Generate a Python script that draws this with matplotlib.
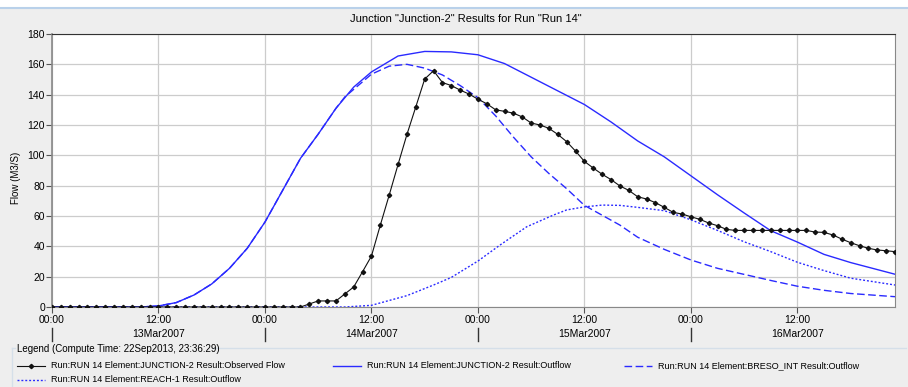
import matplotlib
matplotlib.use("Agg")
import matplotlib.pyplot as plt
from matplotlib.lines import Line2D
from matplotlib.transforms import blended_transform_factory
import numpy as np

plt.rcParams['font.family'] = ['Liberation Sans', 'DejaVu Sans']

# ---- data (hours since 13Mar2007 00:00) ----
obs_hours = list(range(0, 96))
obs_flow = ([0.0] * 29 +
            [2.0, 4.0, 4.0, 4.0, 8.6, 13.2, 23.3, 33.6, 54.0, 73.8, 94.0, 113.8, 132.0, 150.3,
             155.8, 148.0, 146.0, 143.0, 140.4, 137.0, 134.0, 130.0, 129.0, 127.8, 125.3, 121.3,
             120.0, 117.8, 113.8, 109.0, 102.8, 96.0, 91.6, 87.5, 84.0, 79.8, 76.9, 72.7, 71.2,
             68.8, 65.7, 62.4, 61.3, 59.5, 57.8, 55.4, 53.6, 51.2,
             50.5, 50.5, 50.5, 50.5, 50.5, 50.5, 50.5, 50.5, 50.5,
             49.4, 49.2, 47.5, 44.8, 42.4, 40.4, 38.7, 37.6, 37.1, 36.5])

junc_hours = [0, 10, 12, 14, 16, 18, 20, 22, 24, 26, 28, 30, 32, 34, 36, 39, 42, 45, 48, 51, 54,
              57, 60, 63, 66, 69, 72, 75, 78, 81, 84, 87, 90, 95]
junc_flow = [0, 0, 0.7, 2.9, 7.9, 15.2, 25.5, 38.7, 56.0, 77.0, 98.0, 114.0, 131.0, 145.0, 155.0,
             165.5, 168.5, 168.2, 166.3, 160.5, 151.5, 142.5, 133.5, 122.0, 109.5, 99.0, 86.5,
             74.0, 62.0, 50.3, 42.8, 34.7, 29.3, 21.6]

breso_hours = [0, 10, 12, 14, 16, 18, 20, 22, 24, 26, 28, 30, 32, 33, 36, 38, 40, 42, 44, 46, 48,
               50, 52, 54, 56, 58, 60, 62, 64, 66, 69, 72, 75, 78, 81, 84, 87, 90, 95]
breso_flow = [0, 0, 0.7, 2.9, 7.9, 15.2, 25.5, 38.7, 56.0, 77.0, 98.0, 114.0, 131.0, 138.5, 153.5,
              158.8, 160.0, 157.5, 153.0, 146.0, 138.0, 126.0, 112.0, 99.0, 88.0, 78.0, 67.0,
              60.5, 54.0, 46.0, 38.0, 31.0, 25.5, 21.5, 17.5, 13.7, 11.0, 8.9, 6.8]

reach_hours = [0, 33, 36, 40, 43, 45, 48, 50.5, 53.5, 56.5, 58, 60, 62, 64, 66, 69, 72, 75, 78,
               81, 84, 87, 90, 95]
reach_flow = [0, 0, 1.1, 7.5, 14.5, 19.5, 30.3, 40.9, 52.9, 60.6, 64.0, 66.0, 67.2, 67.0, 65.7,
              63.5, 57.5, 50.5, 43.0, 36.5, 29.5, 24.0, 19.0, 14.5]

time_ticks = [0, 12, 24, 36, 48, 60, 72, 84]
time_labels = ["00:00", "12:00", "00:00", "12:00", "00:00", "12:00", "00:00", "12:00"]
date_pos = [12, 36, 60, 84]
date_labels = ["13Mar2007", "14Mar2007", "15Mar2007", "16Mar2007"]
day_sep = [0, 24, 48, 72]

legend_labels = ["Run:RUN 14 Element:JUNCTION-2 Result:Observed Flow",
                 "Run:RUN 14 Element:JUNCTION-2 Result:Outflow",
                 "Run:RUN 14 Element:BRESO_INT Result:Outflow",
                 "Run:RUN 14 Element:REACH-1 Result:Outflow"]

W, H = 908, 387
BG = '#eeeeee'
fig = plt.figure(figsize=(W / 100, H / 100), dpi=100, facecolor=BG)

def fx(px):
    return px / W

def fy(py):
    return 1 - py / H

# top strip
fig.add_artist(plt.Rectangle((0, fy(8)), 1, 1 - fy(8), transform=fig.transFigure,
                             facecolor='white', edgecolor='none'))
fig.add_artist(Line2D([0, 1], [fy(8), fy(8)], transform=fig.transFigure, color='#b9d1ea', lw=1.5))

ax = fig.add_axes([fx(52), fy(307), fx(895 - 52), (307 - 34) / H])
ax.set_facecolor('white')

blue = '#2a2aff'
ax.plot(junc_hours, junc_flow, color=blue, lw=1.0, zorder=3)
ax.plot(breso_hours, breso_flow, color=blue, lw=1.0, ls=(0, (5.5, 2.5)), zorder=3)
ax.plot(reach_hours, reach_flow, color=blue, lw=1.0, ls=(0, (1.4, 1.4)), zorder=3)
ax.plot(obs_hours, obs_flow, color='#111111', lw=0.8, marker='D', ms=2.2, zorder=4)

ax.set_xlim(0, 95)
ax.set_ylim(0, 180)
ax.set_yticks(range(0, 181, 20))
ax.set_xticks(time_ticks)
ax.set_xticklabels(time_labels)
ax.grid(True, color='#cccccc', lw=0.9)
ax.set_axisbelow(True)
ax.tick_params(axis='both', labelsize=7.5, length=4, width=0.8, color='#555555', pad=2)
ax.tick_params(axis='y', pad=1)
for side in ['left', 'bottom', 'right']:
    ax.spines[side].set_color('#888888')
ax.spines['top'].set_color('#333333')
ax.spines['left'].set_linewidth(1.2)

trans = blended_transform_factory(ax.transData, ax.transAxes)
for x, lab in zip(date_pos, date_labels):
    ax.text(x, (307 - 334) / 273, lab, transform=trans, ha='center', va='center',
            fontsize=7.5, clip_on=False)
for x in day_sep:
    ax.add_line(Line2D([x, x], [(307 - 328) / 273, (307 - 341) / 273], transform=trans,
                       color='#333333', lw=1.0, clip_on=False))

fig.text(fx(466), fy(19), 'Junction "Junction-2" Results for Run "Run 14"', ha='center',
         va='center', fontsize=8)
fig.text(fx(16), fy(178), 'Flow (M3/S)', rotation=90, ha='center', va='center', fontsize=7)

# legend panel
fig.add_artist(Line2D([fx(12), fx(15)], [fy(348), fy(348)], transform=fig.transFigure,
                      color='#d5dfe9', lw=1))
fig.add_artist(Line2D([fx(212), fx(906)], [fy(348), fy(348)], transform=fig.transFigure,
                      color='#d5dfe9', lw=1))
fig.add_artist(Line2D([fx(12), fx(12)], [fy(348), 0], transform=fig.transFigure,
                      color='#d5dfe9', lw=1))
fig.text(fx(17), fy(349), 'Legend (Compute Time: 22Sep2013, 23:36:29)', va='center',
         ha='left', fontsize=7)

entries = [
    (17, 366, dict(color='#111111', lw=0.8), True),
    (333, 366, dict(color=blue, lw=1.0), False),
    (624, 366, dict(color=blue, lw=1.0, ls=(0, (5.5, 2.5))), False),
    (17, 380, dict(color=blue, lw=1.0, ls=(0, (1.4, 1.4))), False),
]
for (x0, y0, style, mk), lab in zip(entries, legend_labels):
    fig.add_artist(Line2D([fx(x0), fx(x0 + 28)], [fy(y0), fy(y0)], transform=fig.transFigure,
                          **style))
    if mk:
        fig.add_artist(Line2D([fx(x0 + 14)], [fy(y0)], transform=fig.transFigure,
                              color='#111111', marker='D', ms=2.2, lw=0))
    fig.text(fx(x0 + 34), fy(y0), lab, va='center', ha='left', fontsize=6.5)

fig.savefig('out.png', dpi=100, facecolor=BG)
